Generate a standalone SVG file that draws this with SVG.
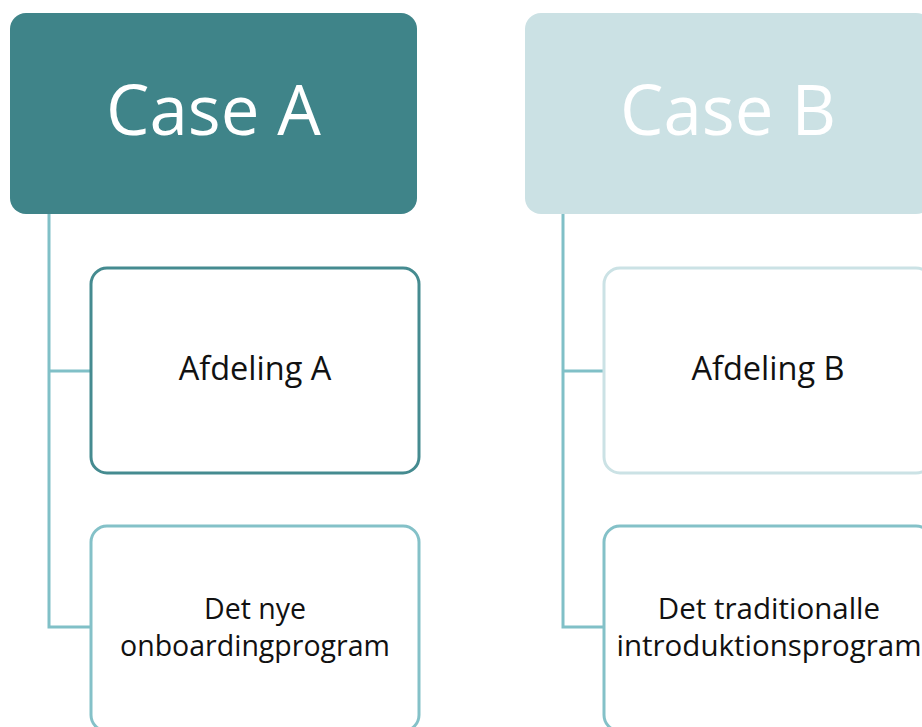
<svg xmlns="http://www.w3.org/2000/svg" width="922" height="727" viewBox="0 0 922 727">
<style>
.head{font-family:"Open Sans","Noto Sans",sans-serif;font-size:69px;fill:#ffffff;text-anchor:middle}
.lbl{font-family:"Open Sans","Noto Sans",sans-serif;fill:#111111;text-anchor:middle}
.child{fill:#ffffff;stroke-width:3}
.conn{fill:none;stroke:#80C0C7;stroke-width:3}
</style>
<rect width="922" height="727" fill="#ffffff"/>
<g id="connectors">
<path class="conn" d="M49,214 V627 H90 M49,371 H90"/>
<path class="conn" d="M563,214 V627 H603 M563,371 H603"/>
</g>
<g id="caseA">
<rect x="10" y="13" width="407" height="201" rx="16" fill="#3F8489"/>
<text class="head" x="213.5" y="135">Case A</text>
</g>
<g id="caseB">
<rect x="525" y="13" width="407" height="201" rx="16" fill="#CBE1E4"/>
<text class="head" x="728" y="135">Case B</text>
</g>
<g id="afdelingA">
<rect class="child" x="91" y="268" width="328" height="205" rx="16" stroke="#458B90"/>
<text class="lbl" x="255" y="380" font-size="32.5">Afdeling A</text>
</g>
<g id="afdelingB">
<rect class="child" x="604" y="268" width="328" height="205" rx="16" stroke="#CBE2E5"/>
<text class="lbl" x="768" y="380" font-size="32.5">Afdeling B</text>
</g>
<g id="detNye">
<rect class="child" x="91" y="526" width="328" height="205" rx="16" stroke="#84C1C8"/>
<text class="lbl" x="255" y="619" font-size="28.5">Det nye</text>
<text class="lbl" x="255" y="656" font-size="28.5">onboardingprogram</text>
</g>
<g id="detTrad">
<rect class="child" x="604" y="526" width="328" height="205" rx="16" stroke="#84C1C8"/>
<text class="lbl" x="769" y="619" font-size="29.5">Det traditionalle</text>
<text class="lbl" x="769" y="656" font-size="29.5">introduktionsprogram</text>
</g>
</svg>
